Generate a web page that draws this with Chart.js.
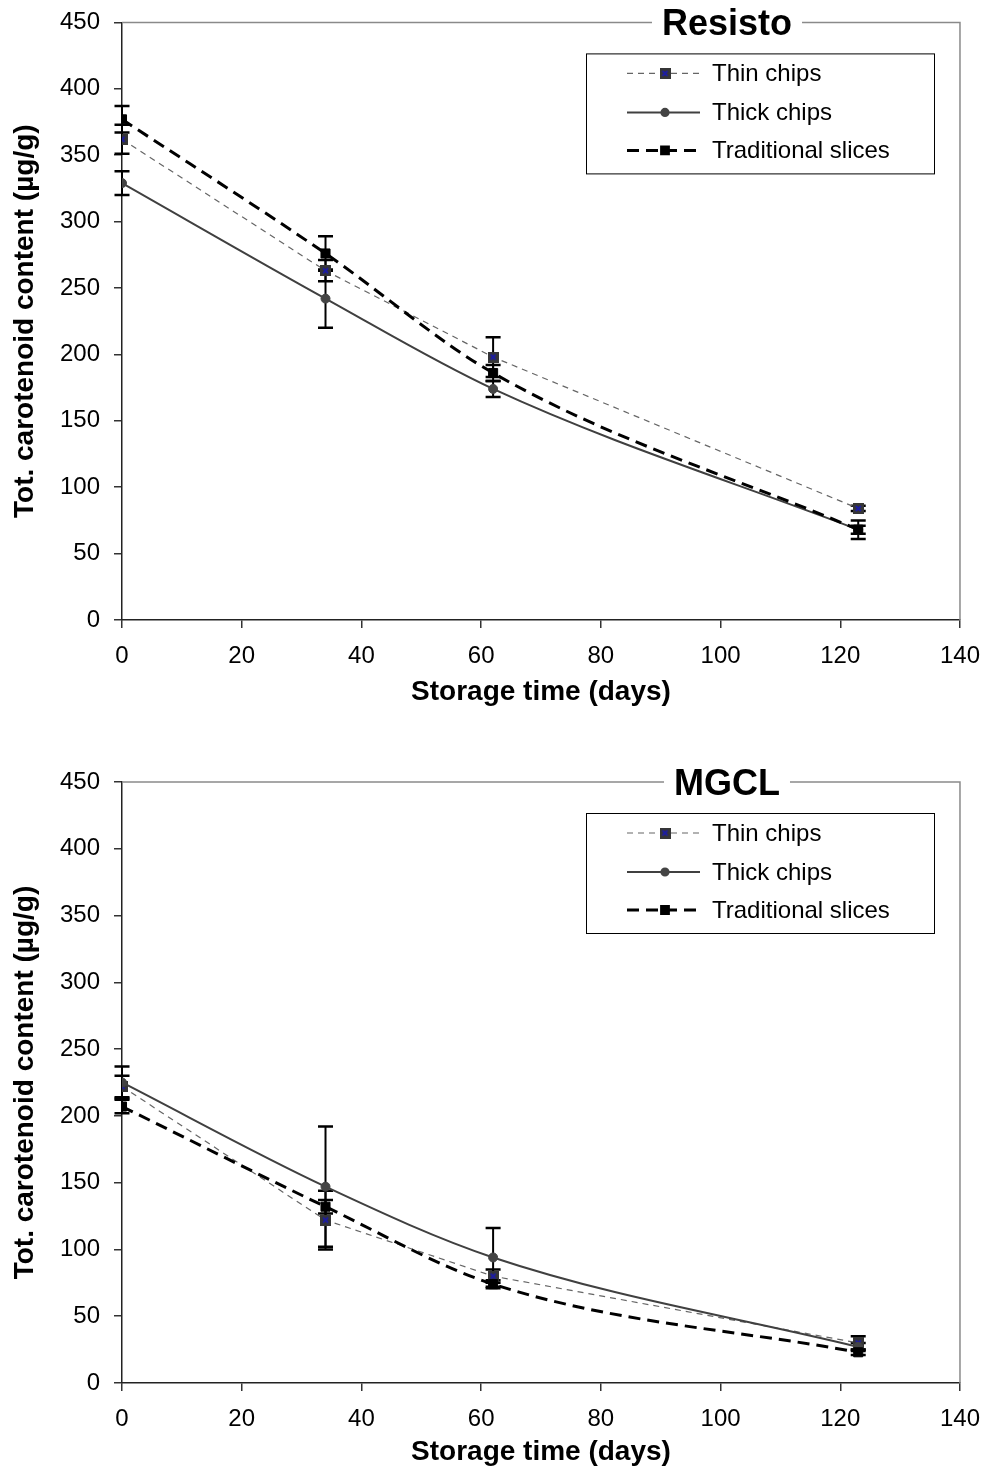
<!DOCTYPE html>
<html><head><meta charset="utf-8">
<script src="https://cdn.jsdelivr.net/npm/chart.js@4/dist/chart.umd.min.js"></script>
<style>
html,body{margin:0;padding:0;background:#fff;overflow:hidden;}
#wrap{position:relative;width:988px;height:1470px;overflow:hidden;}
.panel{position:absolute;left:0;width:994px;}
#p1{top:-6px;height:746px;}
#p2{top:740px;height:730px;}
</style></head><body>
<div id="wrap">
<div class="panel" id="p1"><canvas id="c1" width="994" height="746"></canvas></div>
<div class="panel" id="p2"><canvas id="c2" width="994" height="730"></canvas></div>
</div>
<script>
// ---- data ----
const days = [0, 34, 62, 123];
const seriesNames = ['Thin chips', 'Thick chips', 'Traditional slices'];
const xTickValues = [0, 20, 40, 60, 80, 100, 120, 140];
const yTickValues = [0, 50, 100, 150, 200, 250, 300, 350, 400, 450];
const panelTitles = ['Resisto', 'MGCL'];
const xAxisTitle = 'Storage time (days)';
const yAxisTitle = 'Tot. carotenoid content (µg/g)';

const resistoThin = [362, 263, 198, 84];
const resistoThinErr = [11, 8, 15, 2];
const resistoThick = [329, 242, 174, 68];
const resistoThickErr = [9, 22, 6, 3];
const resistoTrad = [377, 276, 186, 68];
const resistoTradErr = [10, 13, 6, 7];

const mgclThin = [222, 122, 80, 30];
const mgclThinErr = [8, 22, 5, 5];
const mgclThick = [225, 147, 94, 27];
const mgclThickErr = [12, 45, 22, 3];
const mgclTrad = [207, 132, 74, 23];
const mgclTradErr = [5, 5, 3, 2];

// ---- styling ----
const FONT = "'Liberation Sans', Arial, sans-serif";

function makeThinMarker() {
  const c = document.createElement('canvas');
  c.width = 11; c.height = 11;
  const g = c.getContext('2d');
  g.fillStyle = '#363636';
  g.fillRect(0, 0, 11, 11);
  g.strokeStyle = '#1c1ca8';
  g.lineWidth = 1.8;
  g.beginPath();
  g.moveTo(3, 3); g.lineTo(8, 8);
  g.moveTo(8, 3); g.lineTo(3, 8);
  g.stroke();
  return c;
}
const thinMarker = makeThinMarker();

function pts(vals) { return days.map((d, i) => ({x: d, y: vals[i]})); }

function makeDatasets(thin, thick, trad, thinE, thickE, tradE) {
  return [
    {label: seriesNames[0], data: pts(thin), err: thinE,
     borderColor: '#666666', borderWidth: 1.2, borderDash: [6, 5],
     pointStyle: thinMarker, pointRadius: 5.5, pointBackgroundColor: '#363636', pointBorderColor: '#363636',
     tension: 0, order: 3},
    {label: seriesNames[1], data: pts(thick), err: thickE,
     borderColor: '#404040', borderWidth: 2, borderDash: [],
     pointStyle: 'circle', pointRadius: 4.5, pointBackgroundColor: '#444', pointBorderColor: '#444', pointBorderWidth: 1,
     cubicInterpolationMode: 'monotone', order: 2},
    {label: seriesNames[2], data: pts(trad), err: tradE,
     borderColor: '#000', borderWidth: 3, borderDash: [12, 7],
     pointStyle: 'rect', pointRadius: 6.4, pointBackgroundColor: '#000', pointBorderColor: '#000', pointBorderWidth: 1,
     cubicInterpolationMode: 'monotone', order: 1}
  ];
}

const errorBars = {
  id: 'errorBars',
  beforeDatasetsDraw(chart) {
    const ctx = chart.ctx, xs = chart.scales.x, ys = chart.scales.y;
    ctx.save();
    ctx.strokeStyle = '#000';
    chart.data.datasets.forEach(ds => {
      ds.data.forEach((p, j) => {
        const e = ds.err[j];
        const x = xs.getPixelForValue(p.x);
        const y1 = ys.getPixelForValue(p.y + e);
        const y2 = ys.getPixelForValue(p.y - e);
        ctx.lineWidth = 2;
        ctx.beginPath();
        ctx.moveTo(x, y1); ctx.lineTo(x, y2);
        ctx.stroke();
        ctx.lineWidth = 2.5;
        ctx.beginPath();
        ctx.moveTo(x - 7.5, y1); ctx.lineTo(x + 7.5, y1);
        ctx.moveTo(x - 7.5, y2); ctx.lineTo(x + 7.5, y2);
        ctx.stroke();
      });
    });
    ctx.restore();
  }
};

const frameAndLegend = {
  id: 'frameAndLegend',
  afterDraw(chart, args, opts) {
    const ctx = chart.ctx, a = chart.chartArea;
    ctx.save();
    // gray top and right border
    ctx.strokeStyle = '#8a8a8a';
    ctx.lineWidth = 1.5;
    ctx.beginPath();
    ctx.moveTo(a.left, a.top); ctx.lineTo(a.right, a.top); ctx.lineTo(a.right, a.bottom);
    ctx.stroke();
    // title on the border
    ctx.font = 'bold 36px ' + FONT;
    const tw = ctx.measureText(opts.title).width;
    const tx = a.left + 605;
    ctx.fillStyle = '#fff';
    ctx.fillRect(tx - tw / 2 - 10, a.top - 20, tw + 20, 40);
    ctx.fillStyle = '#000';
    ctx.textAlign = 'center';
    ctx.textBaseline = 'middle';
    ctx.fillText(opts.title, tx, a.top + 3);
    // legend box
    const bx = a.left + 464, by = a.top + 31, bw = 348, bh = 120;
    ctx.fillStyle = '#fff';
    ctx.fillRect(bx, by, bw, bh);
    ctx.strokeStyle = '#000';
    ctx.lineWidth = 1;
    ctx.strokeRect(bx + 0.5, by + 0.5, bw, bh);
    const rows = [20, 59, 97];
    ctx.font = '24px ' + FONT;
    ctx.textAlign = 'left';
    chart.data.datasets.forEach((ds, i) => {
      const y = by + rows[i];
      ctx.strokeStyle = ds.borderColor;
      ctx.lineWidth = ds.borderWidth;
      ctx.setLineDash(ds.borderDash);
      ctx.beginPath();
      ctx.moveTo(bx + 41, y); ctx.lineTo(bx + 114, y);
      ctx.stroke();
      ctx.setLineDash([]);
      ctx.fillStyle = ds.pointBackgroundColor;
      ctx.strokeStyle = ds.pointBorderColor;
      const r = ds.pointStyle === 'rect' ? 4.8 : (ds.pointStyle === 'circle' ? 3.6 : 5);
      Chart.helpers.drawPoint(ctx, {pointStyle: ds.pointStyle, radius: r, borderWidth: 1, rotation: 0}, bx + 79, y);
      ctx.fillStyle = '#000';
      ctx.textBaseline = 'middle';
      ctx.fillText(ds.label, bx + 126, y + 1);
    });
    ctx.restore();
  }
};

function makeChart(id, datasets, title, padTop, xHeight, xTitlePad) {
  return new Chart(document.getElementById(id), {
    type: 'line',
    data: {datasets},
    plugins: [errorBars, frameAndLegend],
    options: {
      responsive: false, animation: false, devicePixelRatio: 1,
      layout: {padding: {top: padTop, right: 28, left: 0, bottom: 0}},
      plugins: {legend: {display: false}, tooltip: {enabled: false}, frameAndLegend: {title}},
      scales: {
        x: {
          type: 'linear', min: 0, max: 140,
          afterBuildTicks: s => { s.ticks = xTickValues.map(v => ({value: v})); },
          afterFit: s => { s.height = xHeight; },
          grid: {drawOnChartArea: false, drawTicks: true, tickLength: 8, color: '#333', lineWidth: 1.5},
          border: {display: true, color: '#222', width: 1.5},
          ticks: {font: {family: FONT, size: 24}, color: '#000', padding: 14, maxRotation: 0, autoSkip: false},
          title: {display: true, text: xAxisTitle, color: '#000',
                  font: {family: FONT, size: 28, weight: 'bold', lineHeight: 1},
                  padding: {top: 0, bottom: xTitlePad}}
        },
        y: {
          type: 'linear', min: 0, max: 450,
          afterBuildTicks: s => { s.ticks = yTickValues.map(v => ({value: v})); },
          afterFit: s => { s.width = 122; },
          grid: {drawOnChartArea: false, drawTicks: true, tickLength: 8, color: '#333', lineWidth: 1.5},
          border: {display: true, color: '#222', width: 1.5},
          ticks: {font: {family: FONT, size: 24}, color: '#000', padding: 14, autoSkip: false},
          title: {display: true, text: yAxisTitle, color: '#000',
                  font: {family: FONT, size: 28, weight: 'bold', lineHeight: 1},
                  padding: {top: 11, bottom: 0}}
        }
      }
    }
  });
}

makeChart('c1', makeDatasets(resistoThin, resistoThick, resistoTrad, resistoThinErr, resistoThickErr, resistoTradErr),
          panelTitles[0], 22, 120, 34);
makeChart('c2', makeDatasets(mgclThin, mgclThick, mgclTrad, mgclThinErr, mgclThickErr, mgclTradErr),
          panelTitles[1], 42, 87, 4);
</script>
</body></html>
